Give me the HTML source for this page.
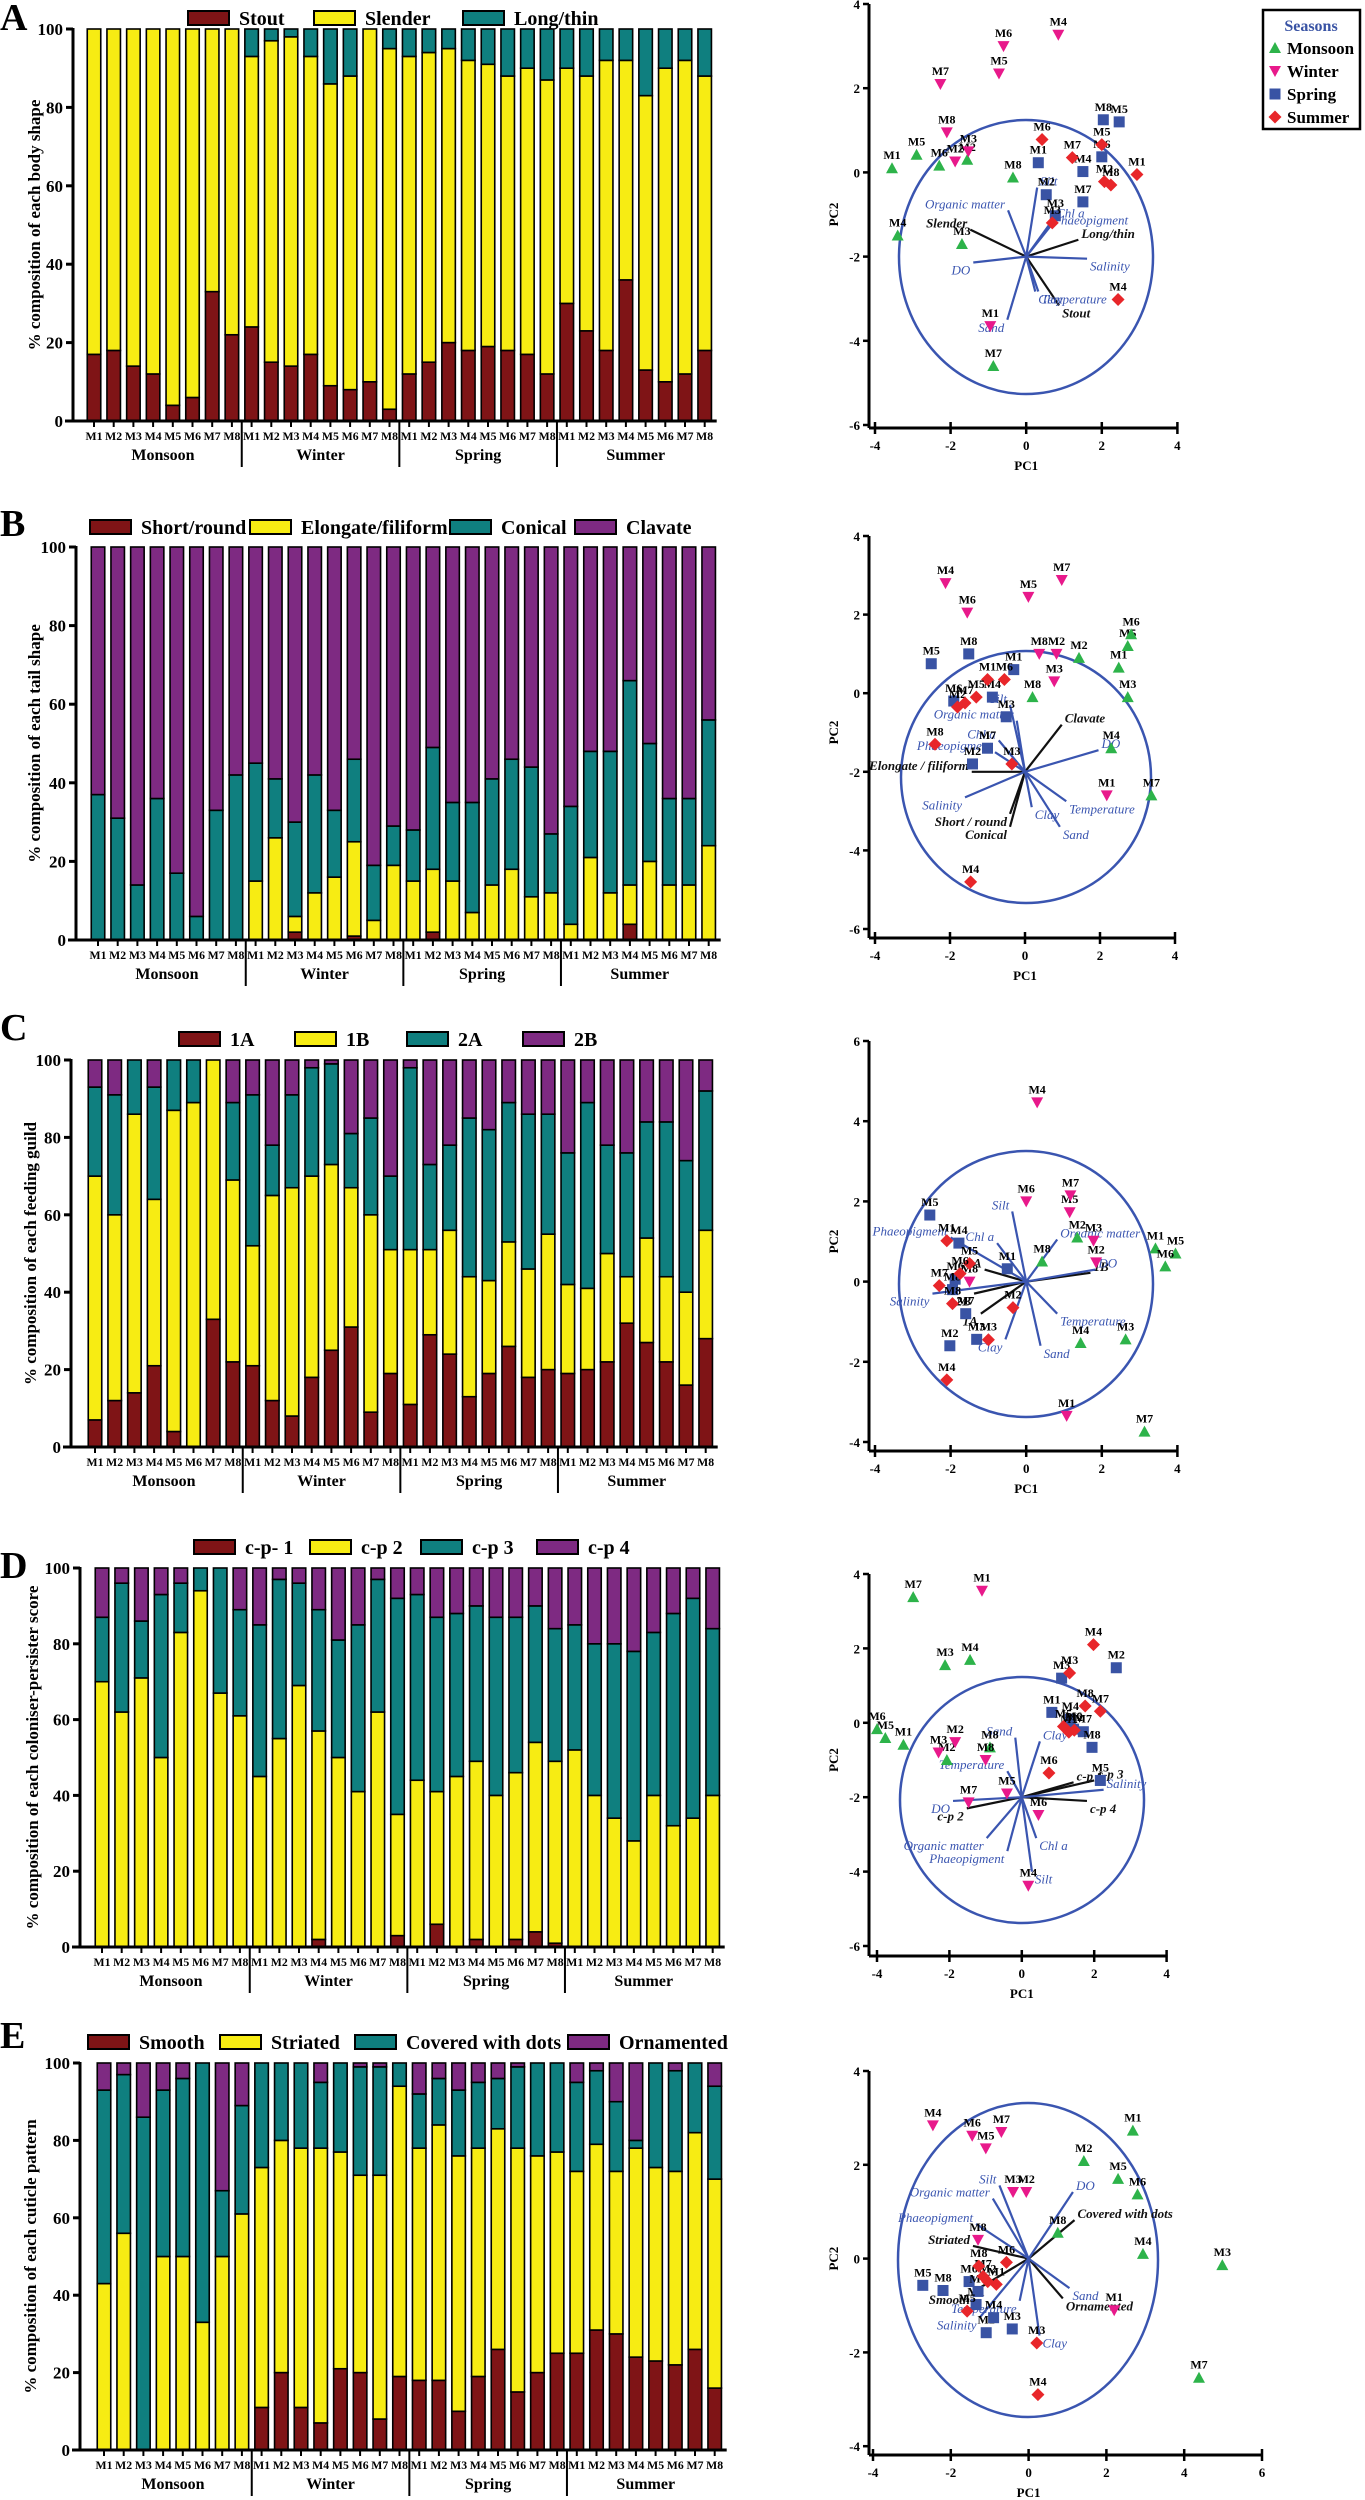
<!DOCTYPE html>
<html><head><meta charset="utf-8">
<style>
html,body{margin:0;padding:0;background:#fff;}
svg{display:block;}
text{font-family:"Liberation Serif",serif;}
</style></head>
<body>
<svg id="fig" width="1365" height="2500" viewBox="0 0 1365 2500" xmlns="http://www.w3.org/2000/svg"></svg>
<script>
// ---------- Bar chart data ----------
const barSeasons = ["Monsoon","Winter","Spring","Summer"];
const barSites = ["M1","M2","M3","M4","M5","M6","M7","M8"];

const A_names = ["Stout","Slender","Long/thin"];
const A_stout = [17,18,14,12,4,6,33,22, 24,15,14,17,9,8,10,3, 12,15,20,18,19,18,17,12, 30,23,18,36,13,10,12,18];
const A_slender = [83,82,86,88,96,94,67,78, 69,82,84,76,77,80,90,92, 81,79,75,74,72,70,73,75, 60,65,74,56,70,80,80,70];
const A_long = [0,0,0,0,0,0,0,0, 7,3,2,7,14,12,0,5, 7,6,5,8,9,12,10,13, 10,12,8,8,17,10,8,12];

const B_names = ["Short/round","Elongate/filiform","Conical","Clavate"];
const B_short = [0,0,0,0,0,0,0,0, 0,0,2,0,0,1,0,0, 0,2,0,0,0,0,0,0, 0,0,0,4,0,0,0,0];
const B_elong = [0,0,0,0,0,0,0,0, 15,26,4,12,16,24,5,19, 15,16,15,7,14,18,11,12, 4,21,12,10,20,14,14,24];
const B_conical = [37,31,14,36,17,6,33,42, 30,15,24,30,17,21,14,10, 13,31,20,28,27,28,33,15, 30,27,36,52,30,22,22,32];
const B_clavate = [63,69,86,64,83,94,67,58, 55,59,70,58,67,54,81,71, 72,51,65,65,59,54,56,73, 66,52,52,34,50,64,64,44];

const C_names = ["1A","1B","2A","2B"];
const C_1A = [7,12,14,21,4,0,33,22, 21,12,8,18,25,31,9,19, 11,29,24,13,19,26,18,20, 19,20,22,32,27,22,16,28];
const C_1B = [63,48,72,43,83,89,67,47, 31,53,59,52,48,36,51,32, 40,22,32,31,24,27,28,35, 23,21,28,12,27,22,24,28];
const C_2A = [23,31,14,29,13,11,0,20, 39,13,24,28,26,14,25,19, 47,22,22,41,39,36,40,31, 34,48,28,32,30,40,34,36];
const C_2B = [7,9,0,7,0,0,0,11, 9,22,9,2,1,19,15,30, 2,27,22,15,18,11,14,14, 24,11,22,24,16,16,26,8];

const D_names = ["c-p- 1","c-p 2","c-p 3","c-p 4"];
const D_cp1 = [0,0,0,0,0,0,0,0, 0,0,0,2,0,0,0,3, 0,6,0,2,0,2,4,1, 0,0,0,0,0,0,0,0];
const D_cp2 = [70,62,71,50,83,94,67,61, 45,55,69,55,50,41,62,32, 44,35,45,47,40,44,50,48, 52,40,34,28,40,32,34,40];
const D_cp3 = [17,34,15,43,13,6,33,28, 40,42,27,32,31,44,35,57, 49,46,43,41,47,41,36,35, 33,40,46,50,43,56,58,44];
const D_cp4 = [13,4,14,7,4,0,0,11, 15,3,4,11,19,15,3,8, 7,13,12,10,13,13,10,16, 15,20,20,22,17,12,8,16];

const E_names = ["Smooth","Striated","Covered with dots","Ornamented"];
const E_smooth = [0,0,0,0,0,0,0,0, 11,20,11,7,21,20,8,19, 18,18,10,19,26,15,20,25, 25,31,30,24,23,22,26,16];
const E_striated = [43,56,0,50,50,33,50,61, 62,60,67,71,56,51,63,75, 60,66,66,59,57,63,56,52, 47,48,42,54,50,50,56,54];
const E_dots = [50,41,86,43,46,67,17,28, 27,20,22,17,23,28,28,6, 14,12,17,17,13,21,24,23, 23,19,18,2,27,26,18,24];
const E_orn = [7,3,14,7,4,0,33,11, 0,0,0,5,0,1,1,0, 8,4,7,5,4,1,0,0, 5,2,10,20,0,2,0,6];

const yTicks = [0,20,40,60,80,100];

// ---------- Biplot data ----------
const seasonNames = ["Monsoon","Winter","Spring","Summer"];

const pA_lab = ["M1","M2","M3","M4","M5","M6","M7","M8", "M1","M2","M3","M4","M5","M6","M7","M8", "M1","M2","M3","M4","M5","M6","M7","M8", "M1","M2","M3","M4","M5","M6","M7","M8"];
const pA_sea = [0,0,0,0,0,0,0,0, 1,1,1,1,1,1,1,1, 2,2,2,2,2,2,2,2, 3,3,3,3,3,3,3,3];
const pA_pc1 = [-3.55,-1.56,-1.7,-3.4,-2.9,-2.3,-0.87,-0.35, -0.95,-1.88,-1.53,0.85,-0.72,-0.6,-2.27,-2.1, 0.32,0.53,0.77,1.5,2.46,2.0,1.5,2.04, 2.93,2.07,0.69,2.43,2.0,0.42,1.22,2.24];
const pA_pc2 = [0.1,0.3,-1.7,-1.5,0.42,0.16,-4.6,-0.12, -3.65,0.26,0.5,3.27,2.35,3.0,2.1,0.95, 0.23,-0.53,-1.03,0.02,1.2,0.37,-0.7,1.25, -0.05,-0.22,-1.2,-3.02,0.66,0.78,0.35,-0.3];
const vA_name = ["Slender","Long/thin","Stout","Silt","Organic matter","Chl a","Phaeopigment","DO","Salinity","Temperature","Clay","Sand"];
const vA_kind = ["k","k","k","b","b","b","b","b","b","b","b","b"];
const vA_pc1 = [-1.48,1.38,0.87,0.29,-0.48,0.71,0.63,-1.4,1.61,0.32,0.24,-0.5];
const vA_pc2 = [-1.36,-1.6,-3.16,-0.36,-0.9,-1.12,-1.29,-2.14,-2.05,-2.83,-2.83,-3.5];

const pB_lab = pA_lab;
const pB_sea = pA_sea;
const pB_pc1 = [2.5,1.44,2.74,2.3,2.74,2.83,3.37,0.2, 2.18,0.84,0.78,-2.12,0.09,-1.54,0.98,0.38, -0.3,-1.4,-0.5,-0.87,-2.5,-1.9,-1.0,-1.5, -1.0,-1.8,-0.35,-1.45,-1.3,-0.55,-1.6,-2.4];
const pB_pc2 = [0.65,0.9,-0.1,-1.4,1.2,1.5,-2.6,-0.1, -2.6,1.0,0.3,2.8,2.45,2.05,2.88,1.0, 0.6,-1.8,-0.6,-0.1,0.75,-0.2,-1.4,1.0, 0.35,-0.35,-1.8,-4.8,-0.1,0.35,-0.25,-1.3];
const vB_name = ["Clavate","Elongate / filiform","Short / round","Conical","DO","Salinity","Organic matter","Silt","Chl a","Phaeopigment","Temperature","Clay","Sand"];
const vB_kind = ["k","k","k","k","b","b","b","b","b","b","b","b","b"];
const vB_pc1 = [0.98,-1.42,-0.4,-0.4,1.96,-1.6,-0.22,-0.4,-0.7,-0.8,1.1,0.18,0.93];
const vB_pc2 = [-0.8,-2.0,-3.07,-3.4,-1.45,-2.65,-0.7,-0.3,-1.2,-1.5,-2.75,-2.9,-3.4];

const pC_lab = pA_lab;
const pC_sea = pA_sea;
const pC_pc1 = [3.42,1.35,2.63,1.44,3.95,3.68,3.13,0.42, 1.07,1.85,1.78,0.29,1.15,0.0,1.17,-1.5, -0.5,-2.02,-1.31,-1.78,-2.55,-1.88,-1.6,-1.95, -2.1,-0.35,-1.0,-2.1,-1.5,-1.75,-2.3,-1.95];
const pC_pc2 = [0.83,1.1,-1.44,-1.53,0.7,0.38,-3.74,0.5, -3.35,0.48,1.02,4.47,1.73,2.0,2.15,0.0, 0.32,-1.6,-1.44,0.96,1.66,0.06,-0.8,-0.2, 1.02,-0.65,-1.45,-2.45,0.45,0.2,-0.1,-0.55];
const vC_name = ["1B","2A","2B","1A","DO","Phaeopigment","Chl a","Organic matter","Silt","Salinity","Temperature","Clay","Sand"];
const vC_kind = ["k","k","k","k","b","b","b","b","b","b","b","b","b"];
const vC_pc1 = [1.7,-1.1,-1.38,-1.2,1.83,-2.0,-0.77,0.82,-0.37,-2.48,0.82,-0.55,0.38];
const vC_pc2 = [0.22,0.3,-0.3,-0.8,0.3,1.1,0.96,1.05,1.75,-0.3,-0.8,-1.44,-1.6];

const pD_lab = pA_lab;
const pD_sea = pA_sea;
const pD_pc1 = [-3.27,-2.07,-2.12,-1.43,-3.77,-4.0,-3.0,-0.88, -1.1,-1.84,-2.3,0.18,-0.41,0.46,-1.47,-1.0, 0.83,2.61,1.1,1.34,2.17,1.43,1.7,1.94, 1.3,1.45,1.32,1.98,1.15,0.75,2.17,1.75];
const pD_pc2 = [-0.59,-1.0,1.55,1.69,-0.41,-0.17,3.38,-0.66, 3.55,-0.52,-0.8,-4.38,-1.9,-2.48,-2.14,-1.0, 0.28,1.48,1.2,0.1,-1.55,-0.17,-0.24,-0.66, -0.25,-0.2,1.34,2.1,-0.1,-1.35,0.31,0.45];
const vD_name = ["c-p 1","c-p 3","c-p 4","c-p 2","Sand","Clay","Temperature","Salinity","DO","Organic matter","Phaeopigment","Chl a","Silt"];
const vD_kind = ["k","k","k","k","b","b","b","b","b","b","b","b","b"];
const vD_pc1 = [1.43,2.0,1.8,-1.52,-0.18,0.5,-0.4,2.26,-1.9,-0.97,-0.4,0.4,0.28];
const vD_pc2 = [-1.6,-1.55,-2.1,-2.3,-0.4,-0.5,-1.3,-1.8,-2.1,-3.1,-3.45,-3.1,-4.0];

const pE_lab = pA_lab;
const pE_sea = pA_sea;
const pE_pc1 = [2.68,1.42,4.98,2.94,2.3,2.8,4.38,0.75, 2.2,-0.06,-0.4,-2.46,-1.1,-1.45,-0.7,-1.3, -1.35,-1.09,-0.42,-0.9,-2.72,-1.53,-1.3,-2.2, -0.83,-1.05,0.21,0.24,-1.58,-0.57,-1.17,-1.28];
const pE_pc2 = [2.73,2.08,-0.14,0.1,1.7,1.37,-2.54,0.55, -1.1,1.42,1.42,2.84,2.35,2.62,2.7,0.4, -0.98,-1.58,-1.5,-1.26,-0.57,-0.49,-0.7,-0.68, -0.55,-0.49,-1.8,-2.9,-1.12,-0.08,-0.38,-0.16];
const vE_name = ["Covered with dots","Striated","Smooth","Ornamented","DO","Phaeopigment","Organic matter","Silt","Salinity","Sand","Temperature","Clay"];
const vE_kind = ["k","k","k","k","b","b","b","b","b","b","b","b"];
const vE_pc1 = [1.18,-1.43,-1.43,0.88,1.14,-1.35,-0.92,-0.75,-1.26,1.05,-0.23,0.28];
const vE_pc2 = [0.82,0.27,-0.71,-0.85,1.42,0.74,1.28,1.56,-1.26,-0.63,-0.9,-1.64];

// ---------- Drawing helpers ----------
const NS = "http://www.w3.org/2000/svg";
const svg = document.getElementById("fig");
function mk(tag, attrs, parent, txt){
  const e = document.createElementNS(NS, tag);
  for (const k in attrs) e.setAttribute(k, attrs[k]);
  if (txt !== undefined) e.textContent = txt;
  (parent || svg).appendChild(e);
  return e;
}
const COLORS = ["#7f1416","#f7ec13","#0f7f7f","#7e2a82"];
const SEASON_COL = ["#2db34a","#e8198b","#3953a4","#e8262a"];

function barChart(cfg){
  const g = mk("g", {});
  
  
  const pitch = 19.7, bw = 13.5;
  const yv = v => cfg.zero - (v/100)*(cfg.zero - cfg.top);
  const xv = i => cfg.firstX + i*pitch;
  // panel letter
  const pl = mk("text", {x:0, y:cfg.letterY, "font-family":"Liberation Sans, sans-serif", "font-size":38, "font-weight":"bold"}, g, cfg.letter);
  
  
  // legend
  for (let s=0; s<cfg.names.length; s++){
    const lg = mk("g", {}, g);
    
    
    const lx = cfg.legX[s];
    mk("rect", {x:lx, y:cfg.legY-7, width:41, height:14, fill:COLORS[s], stroke:"#000", "stroke-width":2}, lg);
    mk("text", {x:lx+51, y:cfg.legY+7, "font-size":20, "font-weight":"bold"}, lg, cfg.names[s]);
  }
  // bars
  for (let i=0; i<32; i++){
    let acc = 0;
    for (let s=0; s<cfg.series.length; s++){
      const v = cfg.series[s][i];
      if (v <= 0) continue;
      const r = mk("rect", {x:xv(i)-bw/2, y:yv(acc+v), width:bw, height:yv(acc)-yv(acc+v), fill:COLORS[s], stroke:"#000", "stroke-width":1.6}, g);
      
      
      acc += v;
    }
  }
  // axes
  const endX = xv(31) + 12;
  const ax = mk("line", {x1:cfg.axisX, y1:cfg.top-1, x2:cfg.axisX, y2:cfg.zero+1.5, stroke:"#000", "stroke-width":3}, g);
  
  
  const xa = mk("line", {x1:cfg.axisX-8, y1:cfg.zero, x2:endX, y2:cfg.zero, stroke:"#000", "stroke-width":3}, g);
  
  
  for (const t of yTicks){
    mk("line", {x1:cfg.axisX-7, y1:yv(t), x2:cfg.axisX, y2:yv(t), stroke:"#000", "stroke-width":3}, g);
    const tl = mk("text", {x:cfg.axisX-10, y:yv(t)+6, "text-anchor":"end", "font-size":17, "font-weight":"bold"}, g, String(t));
    
    
  }
  for (let i=0; i<32; i++){
    mk("line", {x1:xv(i), y1:cfg.zero, x2:xv(i), y2:cfg.zero+6, stroke:"#000", "stroke-width":2}, g);
    const xl = mk("text", {x:xv(i), y:cfg.zero+19, "text-anchor":"middle", "font-size":11.5, "font-weight":"bold", textLength:17, lengthAdjust:"spacingAndGlyphs"}, g, barSites[i%8]);
    
    
  }
  for (let k=0; k<4; k++){
    const cx = xv(k*8+3.5);
    const sl = mk("text", {x:cx, y:cfg.zero+39, "text-anchor":"middle", "font-size":16, "font-weight":"bold"}, g, barSeasons[k]);
    
    
    if (k>0){
      const sx = xv(k*8-0.5);
      mk("line", {x1:sx, y1:cfg.zero, x2:sx, y2:cfg.zero+46, stroke:"#000", "stroke-width":2}, g);
    }
  }
  const midY = (cfg.top+cfg.zero)/2;
  const yt = mk("text", {x:0, y:0, transform:"translate("+(cfg.titleX)+","+midY+") rotate(-90)", "text-anchor":"middle", "font-size":17, "font-weight":"bold"}, g, cfg.title);
  
  
}

function marker(g, s, x, y){
  const c = SEASON_COL[s];
  if (s===0) return mk("polygon", {points:(x)+","+(y-6)+" "+(x-6)+","+(y+5)+" "+(x+6)+","+(y+5), fill:c}, g);
  if (s===1) return mk("polygon", {points:(x-6)+","+(y-5)+" "+(x+6)+","+(y-5)+" "+(x)+","+(y+6), fill:c}, g);
  if (s===2) return mk("rect", {x:x-5.5, y:y-5.5, width:11, height:11, fill:c}, g);
  return mk("polygon", {points:(x)+","+(y-6.5)+" "+(x+6.5)+","+(y)+" "+(x)+","+(y+6.5)+" "+(x-6.5)+","+(y), fill:c}, g);
}

function biplot(cfg){
  const g = mk("g", {});
  
  
  const px = v => cfg.x0 + (v - cfg.xmin)*cfg.ux;
  const py = v => cfg.y0 + (cfg.ymax - v)*cfg.uy;
  const yAxX = 869;
  // axes
  const yBot = py(cfg.ymin);
  mk("line", {x1:yAxX, y1:py(cfg.ymax), x2:yAxX, y2:cfg.axisY, stroke:"#000", "stroke-width":3}, g);
  mk("line", {x1:yAxX, y1:cfg.axisY, x2:px(cfg.xmax)+1, y2:cfg.axisY, stroke:"#000", "stroke-width":3}, g);
  for (let v=cfg.ymin; v<=cfg.ymax; v+=2){
    mk("line", {x1:yAxX-6, y1:py(v), x2:yAxX, y2:py(v), stroke:"#000", "stroke-width":2.5}, g);
    const t = mk("text", {x:yAxX-9, y:py(v)+5, "text-anchor":"end", "font-size":13, "font-weight":"bold"}, g, String(v));
    
    
  }
  for (let v=cfg.xmin; v<=cfg.xmax; v+=2){
    mk("line", {x1:px(v), y1:cfg.axisY-6, x2:px(v), y2:cfg.axisY+6, stroke:"#000", "stroke-width":2.5}, g);
    const t = mk("text", {x:px(v), y:cfg.axisY+22, "text-anchor":"middle", "font-size":13, "font-weight":"bold"}, g, String(v));
    
    
  }
  const t1 = mk("text", {x:px(0), y:cfg.axisY+42, "text-anchor":"middle", "font-size":13, "font-weight":"bold"}, g, "PC1");
  
  
  const t2 = mk("text", {x:0, y:0, transform:"translate(838,"+((py(cfg.ymax)+yBot)/2)+") rotate(-90)", "text-anchor":"middle", "font-size":13, "font-weight":"bold"}, g, "PC2");
  
  
  // circle
  const c = mk("ellipse", {cx:cfg.cx, cy:cfg.cy, rx:cfg.rx, ry:cfg.ry, fill:"none", stroke:"#3a55b0", "stroke-width":2.5}, g);
  
  
  // vectors
  const ox = px(cfg.ox), oy = py(cfg.oy);
  for (let i=0; i<cfg.vn.length; i++){
    const ex = px(cfg.v1[i]), ey = py(cfg.v2[i]);
    const col = cfg.vk[i]==="k" ? "#111" : "#3a55b0";
    const ln = mk("line", {x1:ox, y1:oy, x2:ex, y2:ey, stroke:col, "stroke-width":2.2}, g);
    
    
    const left = ex < ox - 2;
    const lab = mk("text", {x: ex + (left ? -3 : 3), y: ey + (ey > oy ? 12 : -2), "text-anchor": left ? "end" : "start", "font-size":13, "font-style":"italic", "font-weight": cfg.vk[i]==="k" ? "bold" : "normal", fill: col}, g, cfg.vn[i]);
    
    
  }
  // points
  for (let i=0; i<cfg.lab.length; i++){
    const x = px(cfg.p1[i]), y = py(cfg.p2[i]);
    const m = marker(g, cfg.sea[i], x, y);
    
    
    const lt = mk("text", {x:x, y:y-9, "text-anchor":"middle", "font-size":12, "font-weight":"bold"}, g, cfg.lab[i]);
    
    
  }
}

// ---------- Render bar charts ----------
barChart({id:"a", letter:"A", letterY:30, top:29, zero:421, axisX:73, firstX:94, titleX:40, legY:18, legX:[188,314,463],
  names:A_names, series:[A_stout,A_slender,A_long], title:"% composition of each body shape"});
barChart({id:"b", letter:"B", letterY:536, top:547, zero:940, axisX:76, firstX:98, titleX:40, legY:527, legX:[90,250,450,575],
  names:B_names, series:[B_short,B_elong,B_conical,B_clavate], title:"% composition of each tail shape"});
barChart({id:"c", letter:"C", letterY:1040, top:1060, zero:1447, axisX:71, firstX:95, titleX:36, legY:1039, legX:[179,295,407,523],
  names:C_names, series:[C_1A,C_1B,C_2A,C_2B], title:"% composition of each feeding guild"});
barChart({id:"d", letter:"D", letterY:1578, top:1568, zero:1947, axisX:80, firstX:102, titleX:38, legY:1547, legX:[194,310,421,537],
  names:D_names, series:[D_cp1,D_cp2,D_cp3,D_cp4], title:"% composition of each coloniser-persister score"});
barChart({id:"e", letter:"E", letterY:2048, top:2063, zero:2450, axisX:80, firstX:104, titleX:36, legY:2042, legX:[88,220,355,568],
  names:E_names, series:[E_smooth,E_striated,E_dots,E_orn], title:"% composition of each cuticle pattern"});

// ---------- Render biplots ----------
biplot({id:"a", xmin:-4, xmax:4, x0:875, ux:37.8, ymax:4, ymin:-6, y0:4, uy:42.1, axisY:428, cx:1026, cy:257, rx:127, ry:137, ox:0, oy:-2,
  lab:pA_lab, sea:pA_sea, p1:pA_pc1, p2:pA_pc2, vn:vA_name, vk:vA_kind, v1:vA_pc1, v2:vA_pc2});
biplot({id:"b", xmin:-4, xmax:4, x0:875, ux:37.5, ymax:4, ymin:-6, y0:536, uy:39.3, axisY:938, cx:1026, cy:777, rx:125, ry:126, ox:0, oy:-2,
  lab:pB_lab, sea:pB_sea, p1:pB_pc1, p2:pB_pc2, vn:vB_name, vk:vB_kind, v1:vB_pc1, v2:vB_pc2});
biplot({id:"c", xmin:-4, xmax:4, x0:875, ux:37.8, ymax:6, ymin:-4, y0:1041, uy:40.1, axisY:1451, cx:1026, cy:1284, rx:127, ry:133, ox:0, oy:0,
  lab:pC_lab, sea:pC_sea, p1:pC_pc1, p2:pC_pc2, vn:vC_name, vk:vC_kind, v1:vC_pc1, v2:vC_pc2});
biplot({id:"d", xmin:-4, xmax:4, x0:877, ux:36.2, ymax:4, ymin:-6, y0:1574, uy:37.2, axisY:1956, cx:1022, cy:1800, rx:122, ry:123, ox:0, oy:-2,
  lab:pD_lab, sea:pD_sea, p1:pD_pc1, p2:pD_pc2, vn:vD_name, vk:vD_kind, v1:vD_pc1, v2:vD_pc2});
biplot({id:"e", xmin:-4, xmax:6, x0:873, ux:38.9, ymax:4, ymin:-4, y0:2071, uy:46.9, axisY:2455, cx:1028, cy:2260, rx:130, ry:157, ox:0, oy:0,
  lab:pE_lab, sea:pE_sea, p1:pE_pc1, p2:pE_pc2, vn:vE_name, vk:vE_kind, v1:vE_pc1, v2:vE_pc2});

// ---------- Seasons legend ----------
const lg = mk("g", {});


mk("rect", {x:1263, y:10, width:97, height:119, fill:"#fff", stroke:"#000", "stroke-width":2.5}, lg);
mk("text", {x:1311, y:31, "text-anchor":"middle", "font-size":16, "font-weight":"bold", fill:"#3953a4"}, lg, "Seasons");
for (let s=0; s<4; s++){
  const y = 48 + s*23;
  const m = marker(lg, s, 1275, y);
  
  
  const t = mk("text", {x:1287, y:y+6, "font-size":17, "font-weight":"bold"}, lg, seasonNames[s]);
  
  
}
</script>
</body></html>
